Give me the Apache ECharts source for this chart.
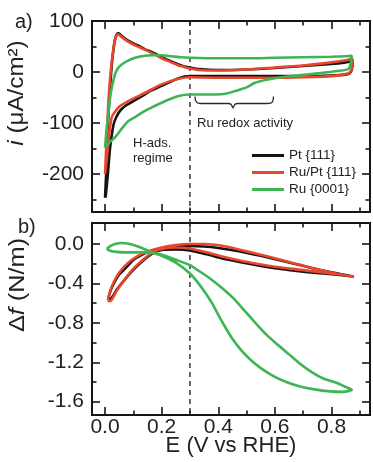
<!DOCTYPE html>
<html>
<head>
<meta charset="utf-8">
<title>CV and surface stress</title>
<script src="https://cdn.jsdelivr.net/npm/echarts@6.0.0/dist/echarts.min.js"></script>
<style>
  html, body { margin: 0; padding: 0; background: #fff; }
  #chart { width: 373px; height: 462px; }
</style>
</head>
<body>
<div id="chart"></div>
<script>
// ---- values ----
const seriesNames = ['Pt {111}', 'Ru/Pt {111}', 'Ru {0001}'];
const seriesColors = ['#141414', '#e8472d', '#3db552'];

// axis ranges and ticks
const E_MIN = -0.046, E_MAX = 0.936;
const I_MIN = -274, I_MAX = 100;
const F_MIN = -1.735, F_MAX = 0.213;
const eMajor = [0, 0.2, 0.4, 0.6, 0.8];
const eMinor = [0.1, 0.3, 0.5, 0.7, 0.9];
const iMajor = [100, 0, -100, -200];
const iMinor = [50, -50, -150, -250];
const fMajor = [0, -0.4, -0.8, -1.2, -1.6];
const fMinor = [-0.2, -0.6, -1.0, -1.4];
const dashedE = 0.3;

// a) current density, [E (V), i (uA/cm2)]
const ptCvUp = [[0.0, -246], [0.004, -200], [0.008, -140], [0.012, -83], [0.018, -30], [0.024, 15], [0.03, 45], [0.036, 66], [0.043, 75], [0.048, 76], [0.06, 70], [0.08, 62], [0.10, 56], [0.12, 51], [0.14, 45], [0.17, 38], [0.20, 29], [0.23, 22], [0.26, 15], [0.28, 11], [0.30, 9], [0.33, 6], [0.40, 4], [0.50, 5], [0.60, 8], [0.70, 12], [0.80, 16], [0.85, 19], [0.87, 21], [0.875, 19]];
const ptCvDown = [[0.872, 5], [0.865, -2], [0.85, -5], [0.80, -7], [0.70, -8], [0.60, -8], [0.50, -8], [0.40, -8], [0.30, -8], [0.26, -12], [0.20, -27], [0.16, -37], [0.14, -44], [0.094, -59], [0.07, -67], [0.053, -76], [0.04, -88], [0.03, -103], [0.018, -148], [0.01, -200], [0.002, -246]];
const ruPtCvUp = [[0.0, -200], [0.004, -150], [0.009, -90], [0.014, -40], [0.02, 0], [0.027, 35], [0.034, 60], [0.041, 72], [0.046, 74], [0.06, 68], [0.08, 60], [0.10, 54], [0.12, 49], [0.14, 44], [0.17, 36], [0.20, 27], [0.23, 20], [0.26, 13], [0.28, 10], [0.30, 7], [0.33, 4], [0.40, 3], [0.50, 5], [0.60, 9], [0.70, 13], [0.80, 19], [0.85, 23], [0.87, 26], [0.875, 24]];
const ruPtCvDown = [[0.872, 8], [0.865, 0], [0.85, -4], [0.80, -8], [0.70, -10], [0.60, -11], [0.50, -11], [0.40, -11], [0.30, -10], [0.26, -13], [0.20, -24], [0.14, -41], [0.082, -57], [0.05, -68], [0.035, -78], [0.024, -88], [0.015, -120], [0.008, -160], [0.0, -200]];
const ruCvUp = [[0.0, -148], [0.006, -110], [0.012, -80], [0.018, -50], [0.026, -25], [0.035, -5], [0.045, 7], [0.059, 15], [0.08, 22], [0.106, 28], [0.13, 31], [0.165, 33], [0.20, 33], [0.236, 31], [0.27, 29], [0.30, 28], [0.40, 27], [0.50, 27], [0.60, 28], [0.70, 29], [0.80, 30], [0.85, 31], [0.872, 32]];
const ruCvDown = [[0.868, 18], [0.86, 6], [0.82, 2], [0.76, -2], [0.71, -5], [0.66, -8], [0.61, -11], [0.57, -15], [0.53, -21], [0.50, -30], [0.46, -37], [0.43, -42], [0.39, -44], [0.30, -44], [0.26, -47], [0.20, -60], [0.141, -76], [0.10, -90], [0.082, -96], [0.06, -110], [0.035, -128], [0.015, -138], [0.0, -148]];

// b) surface stress change, [E (V), df (N/m)]
const ptStressUp = [[0.012, -0.55], [0.02, -0.47], [0.035, -0.38], [0.05, -0.31], [0.071, -0.25], [0.09, -0.19], [0.106, -0.15], [0.13, -0.11], [0.153, -0.08], [0.20, -0.045], [0.25, -0.025], [0.30, -0.02], [0.35, -0.025], [0.40, -0.04], [0.477, -0.075], [0.55, -0.12], [0.654, -0.19], [0.72, -0.235], [0.795, -0.285], [0.85, -0.315], [0.877, -0.33]];
const ptStressDown = [[0.83, -0.315], [0.771, -0.30], [0.70, -0.28], [0.654, -0.265], [0.60, -0.245], [0.536, -0.215], [0.48, -0.185], [0.418, -0.15], [0.36, -0.105], [0.30, -0.065], [0.25, -0.055], [0.20, -0.06], [0.165, -0.10], [0.13, -0.18], [0.094, -0.28], [0.059, -0.40], [0.04, -0.47], [0.025, -0.54], [0.015, -0.56], [0.012, -0.55]];
const ruPtStressUp = [[0.01, -0.57], [0.018, -0.48], [0.032, -0.38], [0.048, -0.30], [0.068, -0.23], [0.09, -0.17], [0.12, -0.115], [0.15, -0.075], [0.20, -0.035], [0.25, -0.01], [0.30, 0.0], [0.35, 0.0], [0.418, -0.02], [0.48, -0.06], [0.536, -0.10], [0.60, -0.145], [0.654, -0.185], [0.72, -0.235], [0.80, -0.29], [0.85, -0.32], [0.88, -0.335]];
const ruPtStressDown = [[0.83, -0.31], [0.771, -0.29], [0.70, -0.265], [0.654, -0.25], [0.60, -0.23], [0.536, -0.20], [0.48, -0.17], [0.418, -0.13], [0.36, -0.085], [0.30, -0.045], [0.25, -0.035], [0.20, -0.05], [0.165, -0.09], [0.13, -0.17], [0.094, -0.27], [0.059, -0.40], [0.04, -0.48], [0.025, -0.56], [0.015, -0.58], [0.01, -0.57]];
const ruStressUp = [[0.006, -0.05], [0.02, -0.02], [0.035, 0.0], [0.06, 0.01], [0.08, 0.005], [0.106, -0.015], [0.13, -0.04], [0.15, -0.065], [0.17, -0.09], [0.20, -0.12], [0.25, -0.19], [0.30, -0.30], [0.33, -0.40], [0.359, -0.515], [0.38, -0.61], [0.406, -0.75], [0.43, -0.87], [0.453, -0.975], [0.48, -1.075], [0.512, -1.17], [0.55, -1.26], [0.595, -1.34], [0.64, -1.40], [0.689, -1.445], [0.74, -1.475], [0.795, -1.495], [0.84, -1.50], [0.872, -1.48]];
const ruStressDown = [[0.85, -1.45], [0.82, -1.41], [0.771, -1.365], [0.73, -1.30], [0.689, -1.215], [0.65, -1.12], [0.607, -1.015], [0.57, -0.92], [0.536, -0.815], [0.50, -0.70], [0.453, -0.55], [0.41, -0.44], [0.371, -0.35], [0.33, -0.27], [0.30, -0.215], [0.25, -0.16], [0.20, -0.11], [0.17, -0.09], [0.13, -0.085], [0.10, -0.085], [0.07, -0.085], [0.04, -0.08], [0.02, -0.07], [0.006, -0.05]];

// curly brace under "Ru redox activity", in data units of panel a)
const braceE = [0.318, 0.319, 0.323, 0.33, 0.34, 0.435, 0.445, 0.452, 0.459, 0.469, 0.572, 0.585, 0.591, 0.594, 0.595];
const braceI = [-48, -54, -58.5, -61, -61.5, -61.5, -63, -70, -63, -61.5, -61.5, -61, -58.5, -54, -48];

// ---- styling ----
const FONT = '"Liberation Sans", Arial, Helvetica, sans-serif';
const AXIS_COLOR = '#161616';
const TEXT_COLOR = '#222';
const MAJOR_LEN = 8;
const MINOR_LEN = 4.5;

const axisLine = { show: true, onZero: false, lineStyle: { color: AXIS_COLOR, width: 1.8 } };

const makeAxis = (kind, gridIndex, position, range, ticks, len, labels, fmt) => ({
  type: 'value',
  gridIndex,
  position,
  min: range[0],
  max: range[1],
  axisLine,
  axisTick: { show: true, inside: true, length: len, customValues: ticks, lineStyle: { color: AXIS_COLOR, width: 1.6 } },
  axisLabel: labels
    ? { show: true, customValues: labels, formatter: fmt, fontSize: 21, color: TEXT_COLOR, fontFamily: FONT, margin: kind === 'x' ? 2 : 8 }
    : { show: false },
  splitLine: { show: false },
});

const eRange = [E_MIN, E_MAX];
const iRange = [I_MIN, I_MAX];
const fRange = [F_MIN, F_MAX];
const fmtE = (v) => v.toFixed(1);
const fmtI = (v) => String(v);
const fmtF = (v) => (Math.abs(v) < 1e-9 ? '0.0' : v.toFixed(1));

const xAxes = [
  // panel a (index 0..3)
  makeAxis('x', 0, 'bottom', eRange, eMajor, MAJOR_LEN),
  makeAxis('x', 0, 'bottom', eRange, eMinor, MINOR_LEN),
  makeAxis('x', 0, 'top', eRange, eMajor, MAJOR_LEN),
  makeAxis('x', 0, 'top', eRange, eMinor, MINOR_LEN),
  // panel b (index 4..7)
  makeAxis('x', 1, 'bottom', eRange, eMajor, MAJOR_LEN, eMajor, fmtE),
  makeAxis('x', 1, 'bottom', eRange, eMinor, MINOR_LEN),
  makeAxis('x', 1, 'top', eRange, eMajor, MAJOR_LEN),
  makeAxis('x', 1, 'top', eRange, eMinor, MINOR_LEN),
];
const yAxes = [
  makeAxis('y', 0, 'left', iRange, iMajor, MAJOR_LEN, iMajor, fmtI),
  makeAxis('y', 0, 'left', iRange, iMinor, MINOR_LEN),
  makeAxis('y', 0, 'right', iRange, iMajor, MAJOR_LEN),
  makeAxis('y', 0, 'right', iRange, iMinor, MINOR_LEN),
  makeAxis('y', 1, 'left', fRange, fMajor, MAJOR_LEN, fMajor, fmtF),
  makeAxis('y', 1, 'left', fRange, fMinor, MINOR_LEN),
  makeAxis('y', 1, 'right', fRange, fMajor, MAJOR_LEN),
  makeAxis('y', 1, 'right', fRange, fMinor, MINOR_LEN),
];

const loop = (name, color, up, down, xIdx, yIdx, z) => ({
  name,
  type: 'line',
  xAxisIndex: xIdx,
  yAxisIndex: yIdx,
  data: up.concat(down),
  symbol: 'none',
  showSymbol: false,
  smooth: 0.25,
  lineStyle: { color, width: 2.6 },
  itemStyle: { color },
  silent: true,
  z,
});

const series = [
  loop(seriesNames[0], seriesColors[0], ptCvUp, ptCvDown, 0, 0, 3),
  loop(seriesNames[1], seriesColors[1], ruPtCvUp, ruPtCvDown, 0, 0, 4),
  loop(seriesNames[2], seriesColors[2], ruCvUp, ruCvDown, 0, 0, 5),
  loop(seriesNames[0], seriesColors[0], ptStressUp, ptStressDown, 4, 4, 3),
  loop(seriesNames[1], seriesColors[1], ruPtStressUp, ruPtStressDown, 4, 4, 4),
  loop(seriesNames[2], seriesColors[2], ruStressUp, ruStressDown, 4, 4, 5),
  {
    name: 'brace',
    type: 'line',
    xAxisIndex: 0,
    yAxisIndex: 0,
    data: braceE.map((e, k) => [e, braceI[k]]),
    symbol: 'none',
    smooth: 0.3,
    lineStyle: { color: '#2a2a2a', width: 1.3 },
    silent: true,
    z: 2,
  },
];

const textStyle = (size, extra) => Object.assign({ fontSize: size, fontFamily: FONT, fill: TEXT_COLOR }, extra || {});
const italic = { it: { fontStyle: 'italic', fontSize: 22, fontFamily: FONT, fill: TEXT_COLOR } };

const graphics = [
  { id: 'lblA', type: 'text', x: 15, y: 22, style: textStyle(20, { text: 'a)', align: 'left', verticalAlign: 'middle' }) },
  { id: 'lblB', type: 'text', x: 18, y: 227, style: textStyle(20, { text: 'b)', align: 'left', verticalAlign: 'middle' }) },
  // the vertical titles are drawn a bit stretched along their length in the original
  {
    id: 'titleI', type: 'text', x: 17, y: 93, rotation: Math.PI / 2, scaleX: 1.1,
    style: textStyle(22, { text: '{it|i} (μA/cm²)', align: 'center', verticalAlign: 'middle', rich: italic }),
  },
  {
    id: 'titleF', type: 'text', x: 17.5, y: 285, rotation: Math.PI / 2, scaleX: 1.15,
    style: textStyle(22, { text: 'Δ{it|f} (N/m)', align: 'center', verticalAlign: 'middle', rich: italic }),
  },
  { id: 'titleE', type: 'text', x: 231, y: 446, style: textStyle(22, { text: 'E (V vs RHE)', align: 'center', verticalAlign: 'middle' }) },
  { id: 'hads1', type: 'text', x: 133, y: 143, style: textStyle(13, { text: 'H-ads.', align: 'left', verticalAlign: 'middle' }) },
  { id: 'hads2', type: 'text', x: 133, y: 158, style: textStyle(13, { text: 'regime', align: 'left', verticalAlign: 'middle' }) },
  { id: 'redox', type: 'text', x: 197, y: 123, style: textStyle(13, { text: 'Ru redox activity', align: 'left', verticalAlign: 'middle' }) },
];

const option = {
  animation: false,
  backgroundColor: '#fff',
  grid: [
    { left: 92, top: 21, width: 278, height: 191, outerBoundsMode: 'none' },
    { left: 92, top: 223, width: 278, height: 192, outerBoundsMode: 'none' },
  ],
  xAxis: xAxes,
  yAxis: yAxes,
  legend: {
    data: seriesNames,
    orient: 'vertical',
    left: 247,
    top: 142,
    icon: 'rect',
    itemWidth: 32,
    itemHeight: 3,
    itemGap: 0,
    selectedMode: false,
    textStyle: { fontSize: 13.5, fontFamily: FONT, color: TEXT_COLOR, lineHeight: 17 },
  },
  series,
  graphic: graphics,
};

const chart = echarts.init(document.getElementById('chart'), null, { renderer: 'canvas' });
chart.setOption(option);

// dashed marker at E = 0.3 V, running through both panels
const dashX = chart.convertToPixel({ xAxisIndex: 0 }, dashedE);
const dashTop = chart.convertToPixel({ yAxisIndex: 0 }, I_MAX);
const dashBottom = chart.convertToPixel({ yAxisIndex: 4 }, F_MIN);
chart.setOption({
  graphic: [{
    id: 'dash', type: 'line', z: 1, silent: true,
    shape: { x1: dashX, y1: dashTop, x2: dashX, y2: dashBottom },
    style: { stroke: '#1a1a1a', lineWidth: 1.3, lineDash: [5, 4] },
  }],
});
</script>
</body>
</html>
